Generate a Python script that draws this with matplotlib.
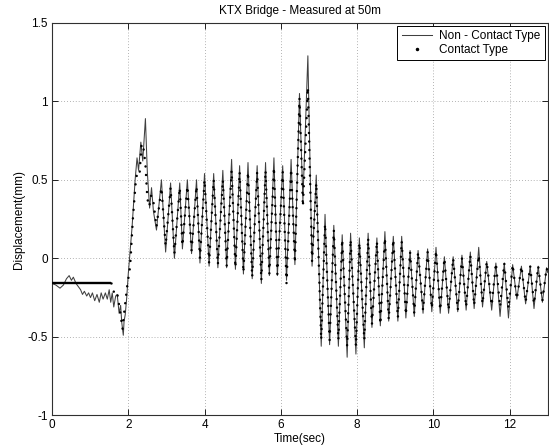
import matplotlib
matplotlib.use("Agg")
import matplotlib.pyplot as plt
from matplotlib.lines import Line2D

plt.rcParams['font.family'] = ['Liberation Sans', 'DejaVu Sans']

title = "KTX Bridge - Measured at 50m"
xlabel = "Time(sec)"
ylabel = "Displacement(mm)"
legend_labels = ["Non - Contact Type", "Contact Type"]
xticks = [0, 2, 4, 6, 8, 10, 12]
yticks = [-1, -0.5, 0, 0.5, 1, 1.5]
ytick_labels = ["-1", "-0.5", "0", "0.5", "1", "1.5"]

# Non-contact type: read turning points of the trace
nc_t = [0.00, 0.10, 0.21, 0.30, 0.38, 0.45, 0.51, 0.56, 0.63, 0.69, 0.75, 0.80, 0.85, 0.91,
        0.96, 1.01, 1.06, 1.12, 1.18, 1.24, 1.29, 1.34, 1.40, 1.45, 1.50, 1.54, 1.58, 1.62,
        1.67, 1.71, 1.76, 1.80, 1.83, 1.87, 1.89, 1.92, 1.96, 2.00, 2.05, 2.10, 2.18, 2.23,
        2.27, 2.33, 2.38, 2.45, 2.50, 2.56, 2.61, 2.66, 2.74, 2.87, 2.98, 3.11, 3.21, 3.35,
        3.42, 3.55, 3.66, 3.79, 3.88, 4.00, 4.12, 4.24, 4.35, 4.48, 4.58, 4.71, 4.81, 4.92,
        5.02, 5.14, 5.25, 5.38, 5.49, 5.60, 5.70, 5.82, 5.91, 6.05, 6.15, 6.27, 6.37, 6.49,
        6.58, 6.71, 6.82, 6.93, 7.06, 7.16, 7.28, 7.39, 7.51, 7.61, 7.74, 7.83, 7.97, 8.06,
        8.19, 8.29, 8.39, 8.52, 8.61, 8.73, 8.83, 8.95, 9.07, 9.17, 9.28, 9.39, 9.50, 9.60,
        9.73, 9.85, 9.96, 10.07, 10.18, 10.29, 10.40, 10.52, 10.64, 10.75, 10.86, 10.97,
        11.07, 11.19, 11.29, 11.40, 11.53, 11.64, 11.75, 11.86, 11.97, 12.08, 12.19, 12.31,
        12.42, 12.54, 12.64, 12.75, 12.86, 12.97, 13.00]
nc_v = [-0.16, -0.17, -0.19, -0.17, -0.13, -0.11, -0.14, -0.12, -0.16, -0.18, -0.20, -0.23,
        -0.21, -0.24, -0.22, -0.25, -0.22, -0.27, -0.23, -0.28, -0.22, -0.26, -0.22, -0.26,
        -0.20, -0.28, -0.22, -0.31, -0.24, -0.23, -0.35, -0.30, -0.41, -0.49, -0.40, -0.36,
        -0.25, -0.10, 0.05, 0.20, 0.50, 0.64, 0.56, 0.74, 0.62, 0.89, 0.55, 0.32, 0.45,
        0.30, 0.18, 0.50, 0.04, 0.48, 0.00, 0.48, 0.06, 0.50, 0.03, 0.50, -0.03, 0.54,
        -0.05, 0.54, -0.06, 0.56, -0.06, 0.63, -0.07, 0.59, -0.10, 0.61, -0.13, 0.59,
        -0.16, 0.61, -0.11, 0.64, -0.11, 0.59, -0.14, 0.63, -0.04, 1.05, 0.37, 1.29,
        -0.05, 0.53, -0.56, 0.28, -0.55, 0.21, -0.56, 0.15, -0.63, 0.16, -0.61, 0.13,
        -0.57, 0.16, -0.44, 0.13, -0.43, 0.17, -0.40, 0.14, -0.40, 0.14, -0.38, 0.05,
        -0.37, 0.05, -0.35, 0.06, -0.34, 0.07, -0.35, 0.01, -0.35, 0.01, -0.34, 0.02,
        -0.33, 0.04, -0.32, 0.07, -0.31, -0.02, -0.33, -0.03, -0.37, -0.03, -0.38, -0.04,
        -0.26, -0.05, -0.29, -0.05, -0.32, -0.05, -0.28, -0.06, -0.09]

# Contact type: flat part before the train arrives (dense samples form a solid band)
c_flat_t = [0.00, 1.56]
c_flat_v = [-0.16, -0.16]

# Contact type: turning points of the sampled record after arrival
c_t = [1.56, 1.60, 1.65, 1.71, 1.78, 1.85, 1.90, 1.97, 2.05, 2.12, 2.20, 2.25, 2.30, 2.35,
       2.40, 2.45, 2.50, 2.55, 2.60, 2.65, 2.74, 2.87, 2.98, 3.11, 3.21, 3.35, 3.42, 3.55,
       3.66, 3.79, 3.88, 4.00, 4.12, 4.24, 4.35, 4.48, 4.58, 4.71, 4.81, 4.92, 5.02, 5.14,
       5.25, 5.38, 5.49, 5.60, 5.70, 5.82, 5.91, 6.05, 6.15, 6.27, 6.37, 6.49, 6.58, 6.71,
       6.82, 6.93, 7.06, 7.16, 7.28, 7.39, 7.51, 7.61, 7.74, 7.83, 7.97, 8.06, 8.19, 8.29,
       8.39, 8.52, 8.61, 8.73, 8.83, 8.95, 9.07, 9.17, 9.28, 9.39, 9.50, 9.60, 9.73, 9.85,
       9.96, 10.07, 10.18, 10.29, 10.40, 10.52, 10.64, 10.75, 10.86, 10.97, 11.07, 11.19,
       11.29, 11.40, 11.53, 11.64, 11.75, 11.86, 11.97, 12.08, 12.19, 12.31, 12.42, 12.54,
       12.64, 12.75, 12.86, 12.97, 13.00]
c_v = [-0.16, -0.20, -0.23, -0.22, -0.33, -0.45, -0.33, -0.18, -0.05, 0.25, 0.50, 0.56,
       0.55, 0.73, 0.70, 0.60, 0.38, 0.33, 0.40, 0.38, 0.20, 0.45, 0.08, 0.45, 0.03, 0.45,
       0.08, 0.46, 0.05, 0.46, 0.00, 0.50, -0.03, 0.50, -0.04, 0.50, -0.05, 0.56, -0.06,
       0.55, -0.09, 0.55, -0.12, 0.55, -0.14, 0.56, -0.10, 0.58, -0.10, 0.55, -0.16, 0.57,
       -0.03, 1.02, 0.33, 1.09, -0.02, 0.48, -0.52, 0.22, -0.52, 0.18, -0.52, 0.12, -0.56,
       0.12, -0.56, 0.10, -0.52, 0.13, -0.42, 0.11, -0.42, 0.13, -0.39, 0.12, -0.38, 0.11,
       -0.36, 0.04, -0.35, 0.04, -0.33, 0.04, -0.32, 0.05, -0.33, 0.00, -0.33, 0.00, -0.33,
       0.00, -0.31, 0.02, -0.30, 0.02, -0.29, -0.02, -0.30, -0.03, -0.31, -0.03, -0.32,
       -0.04, -0.26, -0.05, -0.28, -0.05, -0.29, -0.05, -0.27, -0.06, -0.09]

fig = plt.figure(figsize=(5.49, 4.45), dpi=100)
ax = fig.add_axes([0.0947, 0.0667, 0.903, 0.882])

ax.plot(nc_t, nc_v, color='#404040', lw=0.75, zorder=3)
ax.plot(c_flat_t, c_flat_v, color='black', lw=1.7, solid_capstyle='butt', zorder=4)
ax.plot(c_t, c_v, color='black', lw=1.8, linestyle=(0, (0.01, 3.4)),
        dash_capstyle='round', zorder=4)

ax.set_xlim(0, 13)
ax.set_ylim(-1, 1.5)
ax.set_xticks(xticks)
ax.set_xticklabels([str(v) for v in xticks])
ax.set_yticks(yticks)
ax.set_yticklabels(ytick_labels)
ax.tick_params(direction='in', top=True, right=True, labelsize=8.5, length=4,
               width=0.6, pad=3)
ax.grid(True, color='#9a9a9a', linestyle=(0, (1, 2.5)), linewidth=0.6)
for s in ax.spines.values():
    s.set_linewidth(0.8)
    s.set_color('#303030')

ax.set_title(title, fontsize=8.5, pad=6)
ax.set_xlabel(xlabel, fontsize=8.5, labelpad=1)
ax.set_ylabel(ylabel, fontsize=8.5, labelpad=2)

handles = [Line2D([], [], color='#404040', lw=0.75),
           Line2D([], [], color='black', linestyle='none', marker='.', markersize=3)]
leg = ax.legend(handles, legend_labels, loc='upper right', fontsize=8.5,
                fancybox=False, framealpha=1, edgecolor='black', borderpad=0.35,
                handlelength=2.6, handletextpad=0.6, labelspacing=0.2,
                borderaxespad=0.25)
leg.get_frame().set_linewidth(0.7)

fig.savefig("out.png", dpi=100)
